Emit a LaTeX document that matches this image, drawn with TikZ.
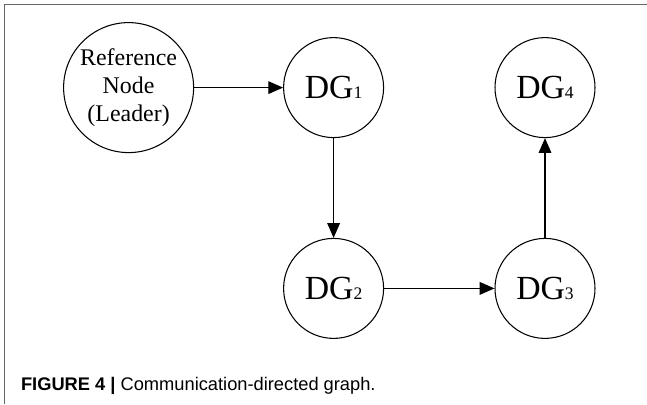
\documentclass[tikz,border=0pt]{standalone}
\usepackage{fontspec}
\setmainfont{Liberation Serif}
\setsansfont{Liberation Sans}
\usepackage{tikz}
\usetikzlibrary{arrows.meta}

\newcommand{\dgname}[1]{DG{\fontsize{12.5pt}{12.5pt}\selectfont #1}}

\begin{document}
\begin{tikzpicture}[x=1cm,y=1cm,
  every node/.style={font=\fontsize{24pt}{26pt}\selectfont},
  agent/.style={draw, circle, line width=0.75pt, minimum size=2.5cm, inner sep=0pt},
  link/.style={line width=0.75pt, -{Triangle[length=10.5pt,width=9pt]}}]
\useasboundingbox (0,0) rectangle (16.175,-10.1);
% frame
\draw[gray!80!black, line width=1.1pt] (16.175,-0.11) -- (0.11,-0.11) -- (0.11,-10.1);
% agents
\node[agent, minimum size=3.25cm, align=center, font=\fontsize{17pt}{20pt}\selectfont]
  (leader) at (3.215,-2.19) {Reference\\Node\\(Leader)};
\node[agent] (dg1) at (8.34,-2.19) {\dgname{1}};
\node[agent] (dg4) at (13.625,-2.19) {\dgname{4}};
\node[agent] (dg2) at (8.34,-7.21) {\dgname{2}};
\node[agent] (dg3) at (13.625,-7.21) {\dgname{3}};
% links
\draw[link] (leader) -- (dg1);
\draw[link] (dg1) -- (dg2);
\draw[link] (dg2) -- (dg3);
\draw[link] (dg3) -- (dg4);
% caption
\node[anchor=base west, inner sep=0pt, font=\sffamily\fontsize{13pt}{15pt}\selectfont]
  (caption) at (0.52,-9.77) {\textbf{FIGURE 4 |} Communication-directed graph.};
\end{tikzpicture}
\end{document}
